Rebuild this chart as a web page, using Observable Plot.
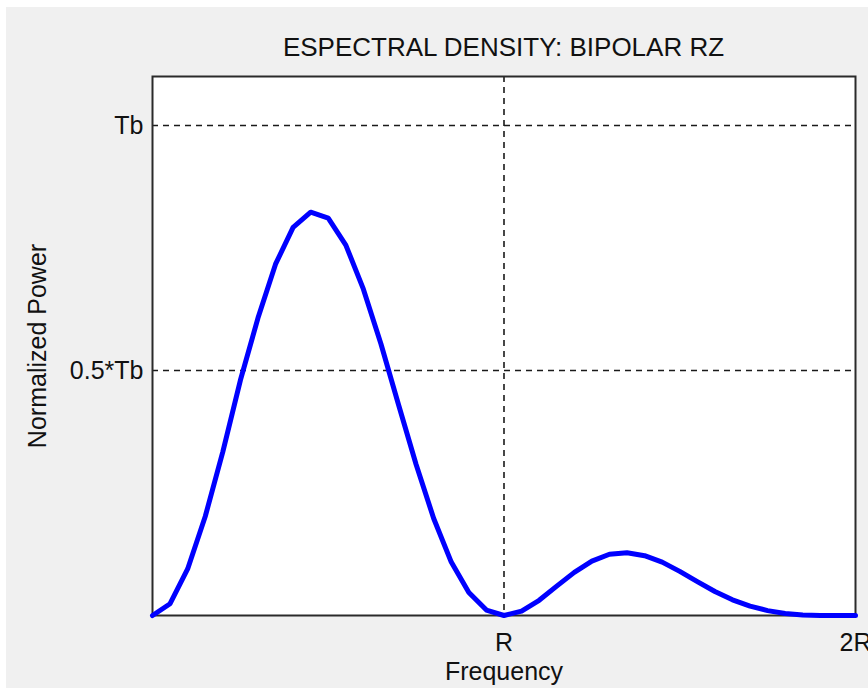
<!DOCTYPE html>
<html>
<head>
<meta charset="utf-8">
<script src="https://cdn.jsdelivr.net/npm/d3@7"></script>
<script src="https://cdn.jsdelivr.net/npm/@observablehq/plot@0.6"></script>
<style>
  html, body { margin: 0; padding: 0; background: #ffffff; }
  body { width: 868px; height: 691px; overflow: hidden; position: relative; }
  #panel {
    position: absolute; left: 6px; top: 7px; width: 862px; height: 681px;
    background: #f0f0f0;
    font-family: "Liberation Sans", Arial, sans-serif;
  }
  #title {
    box-sizing: border-box; height: 55px; padding-top: 25px;
    margin-left: 146px; width: 703px;
    text-align: center; font-size: 26px; line-height: 30px; color: #111;
    white-space: nowrap;
  }
  #chart svg { display: block; }
</style>
</head>
<body>
<div id="panel">
  <div id="title">ESPECTRAL DENSITY: BIPOLAR RZ</div>
  <div id="chart"></div>
</div>
<script>
// Frequency in multiples of the bit rate R
const freq = [
  0, 0.05, 0.1, 0.15, 0.2, 0.25, 0.3, 0.35, 0.4, 0.45,
  0.5, 0.55, 0.6, 0.65, 0.7, 0.75, 0.8, 0.85, 0.9, 0.95,
  1.0, 1.05, 1.1, 1.15, 1.2, 1.25, 1.3, 1.35, 1.4, 1.45,
  1.5, 1.55, 1.6, 1.65, 1.7, 1.75, 1.8, 1.85, 1.9, 1.95, 2.0
];
// Normalized power in units of Tb
const power = [
  0, 0.024, 0.095, 0.202, 0.334, 0.48, 0.607, 0.717, 0.792, 0.823,
  0.811, 0.756, 0.666, 0.554, 0.430, 0.308, 0.198, 0.109, 0.047, 0.011,
  0, 0.009, 0.031, 0.060, 0.088, 0.111, 0.125, 0.128, 0.122, 0.109,
  0.090, 0.069, 0.049, 0.032, 0.019, 0.010, 0.004, 0.001, 0, 0, 0
];
const xTicks = [1, 2];
const xTickLabels = ["R", "2R"];
const yTicks = [0.5, 1];
const yTickLabels = ["0.5*Tb", "Tb"];
const xLabel = "Frequency";
const yLabel = "Normalized Power";

const rows = freq.map((f, i) => ({f, p: power[i]}));
const font = "Liberation Sans, Arial, sans-serif";

const chart = Plot.plot({
  width: 862,
  height: 626,
  marginLeft: 146,
  marginRight: 13,
  marginTop: 14,
  marginBottom: 73,
  style: {background: "transparent", fontFamily: font, fontSize: "25px", color: "#111", overflow: "visible"},
  x: {domain: [0, 2], axis: null},
  y: {domain: [0, 1.1], axis: null},
  marks: [
    Plot.frame({fill: "white", stroke: null}),
    Plot.ruleY(yTicks, {stroke: "#1a1a1a", strokeWidth: 1.6, strokeDasharray: "6,5"}),
    Plot.ruleX([1], {stroke: "#1a1a1a", strokeWidth: 1.6, strokeDasharray: "6,5"}),
    Plot.frame({stroke: "#2a2a2a", strokeWidth: 2}),
    Plot.axisX({
      ticks: xTicks, tickSize: 0, tickPadding: 18, fontSize: 25,
      tickFormat: d => xTickLabels[xTicks.indexOf(d)], label: null
    }),
    Plot.axisY({
      ticks: yTicks, tickSize: 0, tickPadding: 9, fontSize: 25,
      tickFormat: d => yTickLabels[yTicks.indexOf(d)], label: null
    }),
    Plot.text([xLabel], {
      text: d => d, frameAnchor: "bottom", lineAnchor: "top", dy: 47, fontSize: 25, fill: "#111"
    }),
    Plot.text([yLabel], {
      text: d => d, frameAnchor: "left", rotate: -90, textAnchor: "middle", dx: -115, fontSize: 25, fill: "#111"
    }),
    Plot.line(rows, {x: "f", y: "p", stroke: "#0000ff", strokeWidth: 5, strokeLinejoin: "round"})
  ]
});
document.getElementById("chart").appendChild(chart);
</script>
</body>
</html>
